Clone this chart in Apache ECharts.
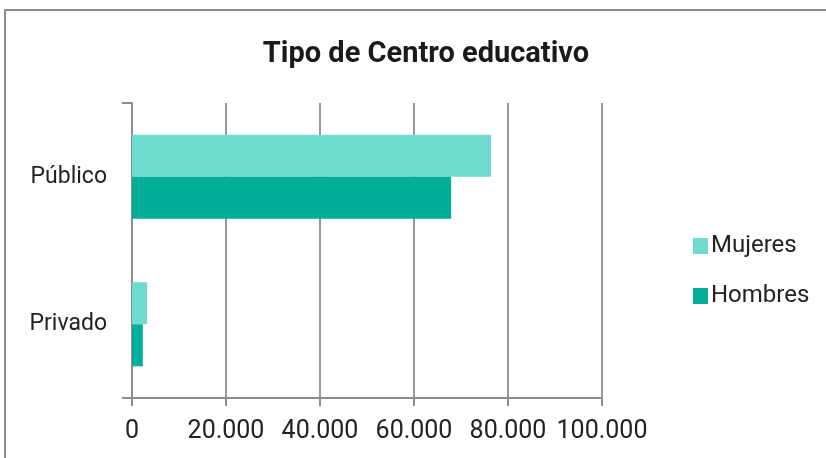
<!DOCTYPE html>
<html>
<head>
<meta charset="utf-8">
<script src="https://cdn.jsdelivr.net/npm/echarts@6/dist/echarts.min.js"></script>
<style>
  html, body { margin: 0; padding: 0; background: #fff; }
  #chart { width: 826px; height: 458px; }
</style>
</head>
<body>
<div id="chart"></div>
<script>
const categories = ['Público', 'Privado'];
const mujeres = [76400, 3200];
const hombres = [67900, 2300];
const xTicks = [0, 20000, 40000, 60000, 80000, 100000];

const font = 'Roboto, "Noto Sans", sans-serif';
const chart = echarts.init(document.getElementById('chart'));

function fmt(v) {
  return String(v).replace(/\B(?=(\d{3})+(?!\d))/g, '.');
}

chart.setOption({
  animation: false,
  textStyle: { fontFamily: font },
  title: {
    text: 'Tipo de Centro educativo',
    left: 421,
    textAlign: 'center',
    top: 35,
    textStyle: { fontSize: 29, fontWeight: 'bold', color: '#1a1a1a', fontFamily: font }
  },
  graphic: [{
    type: 'rect',
    shape: { x: 5, y: 10, width: 900, height: 600 },
    style: { fill: 'none', stroke: '#8c8c8c', lineWidth: 2 },
    silent: true
  }],
  legend: {
    orient: 'vertical',
    left: 688,
    top: 229,
    itemWidth: 15,
    itemHeight: 16,
    itemGap: 26,
    icon: 'rect',
    textStyle: { fontSize: 24, lineHeight: 24, color: '#222', fontFamily: font, padding: [0, 0, 0, -2] },
    data: ['Mujeres', 'Hombres']
  },
  grid: { left: 132, right: 224, top: 103, bottom: 60 },
  xAxis: {
    type: 'value',
    min: xTicks[0],
    max: xTicks[xTicks.length - 1],
    interval: 20000,
    axisLine: { show: true, lineStyle: { color: '#8c8c8c', width: 2 } },
    axisTick: { show: true, length: 8, lineStyle: { color: '#8c8c8c', width: 2 } },
    splitLine: { show: true, lineStyle: { color: '#999', width: 2 } },
    axisLabel: { fontSize: 25, color: '#222', margin: 21, formatter: fmt }
  },
  yAxis: {
    type: 'category',
    inverse: true,
    data: categories,
    axisLine: { show: true, lineStyle: { color: '#8c8c8c', width: 2 } },
    axisTick: {
      show: true,
      length: 10,
      interval: function (idx) { return idx !== 1; },
      lineStyle: { color: '#8c8c8c', width: 2 }
    },
    axisLabel: { fontSize: 23, color: '#222', margin: 25 }
  },
  series: [
    {
      name: 'Mujeres',
      type: 'bar',
      data: mujeres,
      barGap: '0%',
      barCategoryGap: '43%',
      itemStyle: { color: '#6fdbcf' }
    },
    {
      name: 'Hombres',
      type: 'bar',
      data: hombres,
      itemStyle: { color: '#00ae9a' }
    }
  ]
});
</script>
</body>
</html>
